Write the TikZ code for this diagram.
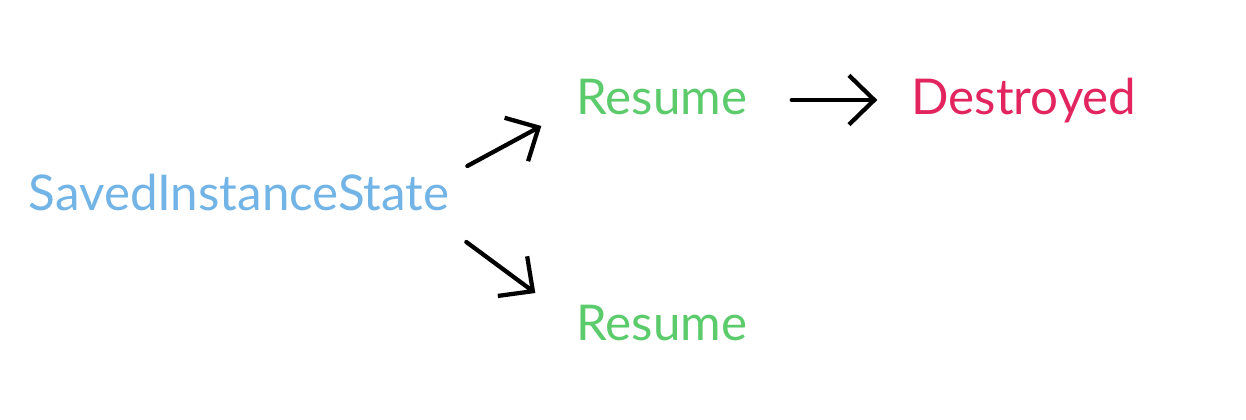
\documentclass[tikz,border=0pt]{standalone}
\usepackage{fontspec}
\setmainfont{Lato}
\usepackage{tikz}
\usetikzlibrary{arrows.meta, positioning}

\definecolor{SavedBlue}{HTML}{72B4E6}
\definecolor{ResumeGreen}{HTML}{5CCB6B}
\definecolor{DestroyRed}{HTML}{E2245F}

\begin{document}
\begin{tikzpicture}[x=0.75pt, y=-0.75pt,
    state/.style={inner sep=0pt, anchor=base, font=\fontsize{37}{44}\selectfont},
    flow/.style={line width=3.2pt, line cap=round, line join=round,
      -{Straight Barb[length=19pt, width=37pt, line width=3.2pt]}},
  ]
    \useasboundingbox (0,0) rectangle (1246,420);

    \node[state, text=SavedBlue] (saved) at (239,211) {SavedInstanceState};
    \node[state, text=ResumeGreen] (resumeA) at (662,115) {Resume};
    \node[state, text=ResumeGreen] (resumeB) at (662,340) {Resume};
    \node[state, text=DestroyRed] (destroyed) at (1024,115) {Destroyed};

    % arrows between the states
    \draw[flow] ([shift={(18,-45)}]saved.base east) -- ([shift={(-35,11)}]resumeA.base west);
    \draw[flow] ([shift={(17,31)}]saved.base east) -- ([shift={(-41,-47)}]resumeB.base west);
    \draw[flow] ([shift={(44,-15)}]resumeA.base east) -- ([shift={(-34,-15)}]destroyed.base west);
\end{tikzpicture}
\end{document}
